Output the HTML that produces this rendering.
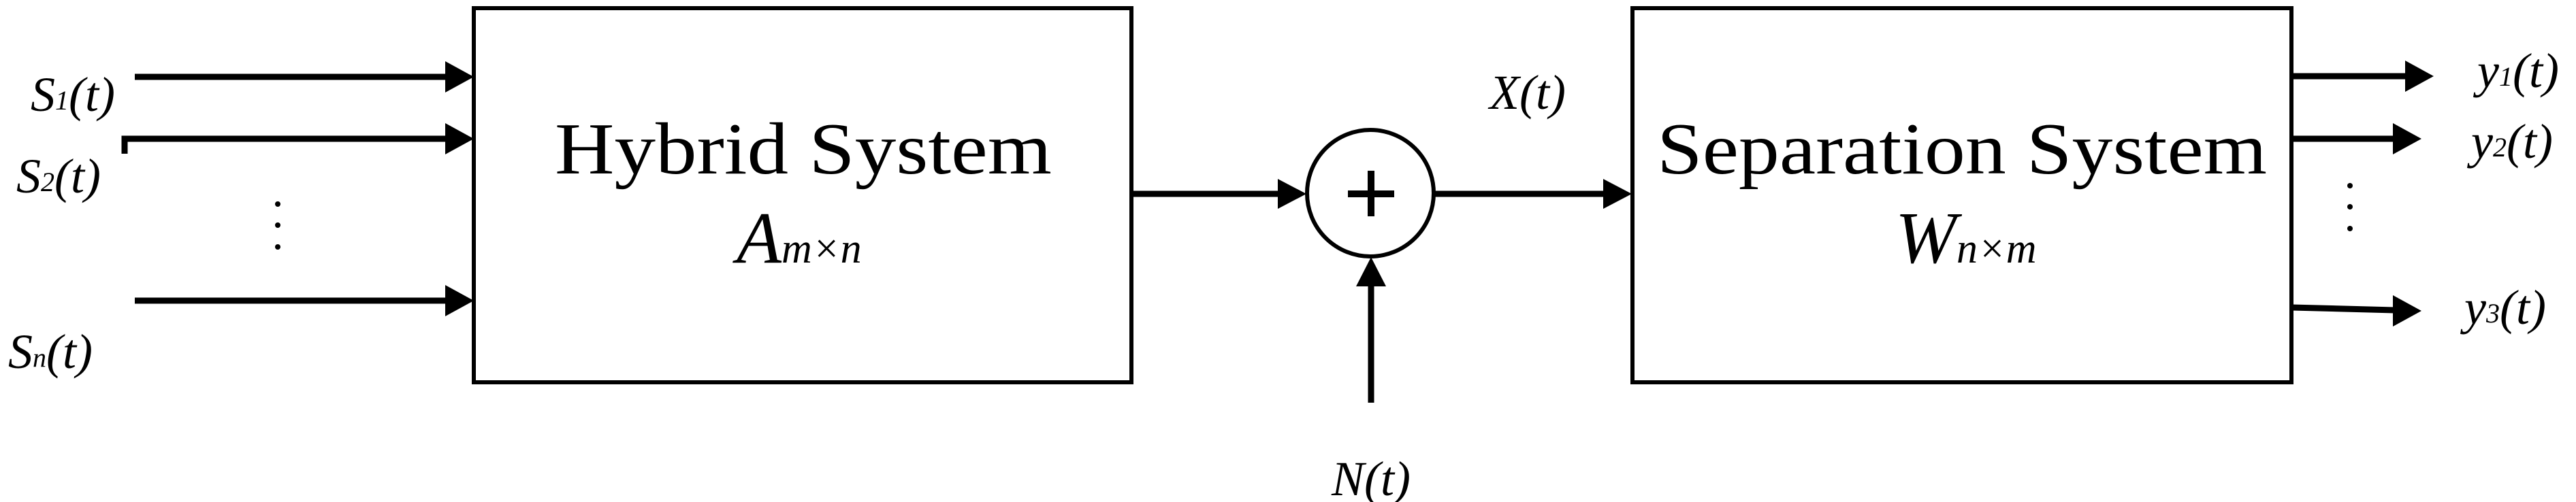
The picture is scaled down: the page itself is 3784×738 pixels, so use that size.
<!DOCTYPE html>
<html><head><meta charset="utf-8"><style>
html,body{margin:0;padding:0;background:#fff;width:3784px;height:738px;overflow:hidden}
text{font-family:"Liberation Serif",serif;fill:#000}
.l{font-style:italic;font-size:72px}
.s{font-size:40px}
</style></head><body>
<svg width="3784" height="738" viewBox="0 0 3784 738" xmlns="http://www.w3.org/2000/svg">
<g fill="none" stroke="#000">
<rect x="696" y="12" width="966" height="550" stroke-width="6"/>
<rect x="2398" y="12" width="968" height="550" stroke-width="6"/>
<circle cx="2013" cy="284" r="93" stroke-width="6"/>
<g stroke-width="9">
<line x1="198" y1="113" x2="660" y2="113"/>
<polyline points="183,226 183,204 660,204"/>
<line x1="198" y1="442" x2="660" y2="442"/>
<line x1="1662" y1="285" x2="1880" y2="285"/>
<line x1="2106" y1="285" x2="2360" y2="285"/>
<line x1="2014" y1="592" x2="2014" y2="420"/>
<line x1="3366" y1="112" x2="3536" y2="112"/>
<line x1="3366" y1="204" x2="3518" y2="204"/>
<line x1="3366" y1="452" x2="3518" y2="456"/>
</g>
<g stroke-width="10">
<line x1="1980" y1="285" x2="2048" y2="285"/>
<line x1="2014" y1="251" x2="2014" y2="318"/>
</g>
</g>
<g fill="#000">
<polygon points="654,90 696,113 654,136"/>
<polygon points="654,181 696,204 654,227"/>
<polygon points="654,419 696,442 654,465"/>
<polygon points="1877,263 1919,285 1877,307"/>
<polygon points="2355,263 2397,285 2355,307"/>
<polygon points="1992,421 2014,378 2036,421"/>
<polygon points="3533,89 3575,112 3533,135"/>
<polygon points="3515,181 3557,204 3515,227"/>
<polygon points="3515,434 3557,457 3515,480"/>
<circle cx="408" cy="300" r="4"/><circle cx="408" cy="331" r="4"/><circle cx="408" cy="363" r="4"/>
<circle cx="3452" cy="273" r="4"/><circle cx="3452" cy="304" r="4"/><circle cx="3452" cy="336" r="4"/>
</g>
<text class="l" x="45" y="163">S<tspan class="s" dy="-2">1</tspan><tspan dy="2">(t)</tspan></text>
<text class="l" x="24" y="283">S<tspan class="s" dy="-2">2</tspan><tspan dy="2">(t)</tspan></text>
<text class="l" x="12" y="541">S<tspan class="s" dy="-2">n</tspan><tspan dy="2">(t)</tspan></text>
<text class="l" x="2188" y="160">X(t)</text>
<text class="l" x="1956" y="728">N(t)</text>
<text class="l" x="3639" y="128">y<tspan class="s" dy="-2">1</tspan><tspan dy="2">(t)</tspan></text>
<text class="l" x="3630" y="232">y<tspan class="s" dy="-2">2</tspan><tspan dy="2">(t)</tspan></text>
<text class="l" x="3620" y="476">y<tspan class="s" dy="-2">3</tspan><tspan dy="2">(t)</tspan></text>
<text x="1180" y="255" font-size="108" text-anchor="middle" textLength="730" lengthAdjust="spacingAndGlyphs">Hybrid System</text>
<text x="2882" y="255" font-size="108" text-anchor="middle" textLength="896" lengthAdjust="spacingAndGlyphs">Separation System</text>
<text x="1082" y="386" font-size="108" font-style="italic">A<tspan font-size="62">m×n</tspan></text>
<text x="2784" y="386" font-size="108" font-style="italic">W<tspan font-size="62">n×m</tspan></text>
</svg>
</body></html>
